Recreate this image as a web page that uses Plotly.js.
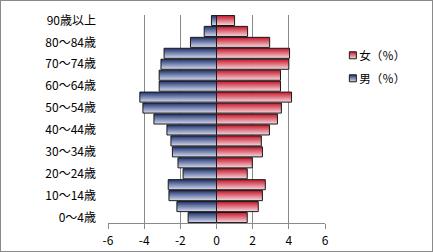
<!DOCTYPE html>
<html><head><meta charset="utf-8">
<script src="https://cdn.plot.ly/plotly-3.0.1.min.js"></script>
<style>
html,body{margin:0;padding:0;background:#fff;}
#wrap{position:relative;width:433px;height:252px;}
#chart{width:433px;height:252px;}
#frame{position:absolute;left:0;top:0;width:433px;height:252px;box-sizing:border-box;border:1px solid #8a8a8a;pointer-events:none;}
</style></head>
<body>
<div id="wrap"><div id="chart"></div><div id="frame"></div></div>
<script>
const ageGroups = ["0～4歳","5～9歳","10～14歳","15～19歳","20～24歳","25～29歳","30～34歳","35～39歳","40～44歳","45～49歳","50～54歳","55～59歳","60～64歳","65～69歳","70～74歳","75～79歳","80～84歳","85～89歳","90歳以上"];
const maleValues = [1.57,2.19,2.63,2.67,1.85,2.13,2.44,2.52,2.74,3.46,4.07,4.24,3.17,3.17,3.07,2.90,1.44,0.68,0.28];
const femaleValues = [1.70,2.31,2.54,2.70,1.70,1.98,2.54,2.48,2.93,3.37,3.59,4.15,3.54,3.54,4.00,4.04,2.94,1.72,1.00];
const xTickVals = [-6,-4,-2,0,2,4,6];
const xTickText = ["-6","-4","-2","0","2","4","6"];
const yTickLabels = ageGroups.filter((_, i) => i % 2 === 0);
const femaleName = "女（％）";
const maleName = "男（％）";

const font = "Noto Sans CJK JP, Noto Sans, sans-serif";
const data = [
  {type:"bar", orientation:"h", name:femaleName, y:ageGroups, x:femaleValues,
   legendgroup:"f",
   marker:{color:"#d9505f", line:{color:"#1a1a1a", width:1}}, hoverinfo:"none"},
  {type:"bar", orientation:"h", name:maleName, y:ageGroups, x:maleValues.map(v => -v),
   legendgroup:"m",
   marker:{color:"#5a6fa5", line:{color:"#1a1a1a", width:1}}, hoverinfo:"none"}
];
const layout = {
  width:433, height:252,
  margin:{l:108, r:108, t:15, b:29},
  paper_bgcolor:"#fff", plot_bgcolor:"#fff",
  font:{family:font, size:12, color:"#000"},
  barmode:"relative", bargap:0.08,
  showlegend:true,
  legend:{x:0.974, xanchor:"left", y:0.876, yanchor:"top", bgcolor:"rgba(0,0,0,0)",
          font:{family:font, size:11.5, color:"#000"}, traceorder:"grouped", tracegroupgap:4},
  xaxis:{range:[-6,6], tickvals:xTickVals, ticktext:xTickText, showgrid:true, gridcolor:"#8a8a8a", gridwidth:1,
         zeroline:true, zerolinecolor:"#8a8a8a", zerolinewidth:1,
         showline:true, linecolor:"#8a8a8a", linewidth:1, ticks:"outside", ticklen:5, tickcolor:"#8a8a8a",
         ticklabelstandoff:2,
         tickfont:{family:font, size:12, color:"#000"}, fixedrange:true},
  yaxis:{type:"category", categoryorder:"array", categoryarray:ageGroups,
         tickvals:yTickLabels, ticktext:yTickLabels, ticks:"", showgrid:false, zeroline:false, showline:false,
         ticklabelstandoff:11, tickfont:{family:font, size:12, color:"#000"}, fixedrange:true}
};
Plotly.newPlot("chart", data, layout, {staticPlot:true, displayModeBar:false}).then(gd => {
  const NS = "http://www.w3.org/2000/svg";
  const svg = gd.querySelector("svg.main-svg");
  let defs = svg.querySelector("defs");
  if (!defs) { defs = document.createElementNS(NS, "defs"); svg.insertBefore(defs, svg.firstChild); }
  function grad(id, top, bottom) {
    const g = document.createElementNS(NS, "linearGradient");
    g.setAttribute("id", id); g.setAttribute("x1","0"); g.setAttribute("y1","0"); g.setAttribute("x2","0"); g.setAttribute("y2","1");
    [[0, top],[1, bottom]].forEach(([o,c]) => {
      const s = document.createElementNS(NS, "stop"); s.setAttribute("offset", o); s.setAttribute("stop-color", c); g.appendChild(s);
    });
    defs.appendChild(g);
  }
  grad("gradF", "rgb(200,20,40)", "rgb(246,218,224)");
  grad("gradM", "rgb(30,50,110)", "rgb(214,220,240)");
  const ids = ["gradF","gradM"];
  gd.querySelectorAll("g.trace.bars").forEach((t, i) => {
    t.querySelectorAll("path").forEach(p => { p.style.fill = "url(#" + ids[i] + ")"; });
  });
  gd.querySelectorAll("g.legend g.traces").forEach((t, i) => {
    t.querySelectorAll("g.legendpoints path").forEach(p => {
      p.setAttribute("d", "M3.5,3.5H-3.5V-3.5H3.5Z");
      p.setAttribute("transform", "translate(33.5,0)");
      p.style.fill = "url(#" + ids[i] + ")";
      p.style.strokeWidth = "1px";
      p.style.stroke = "#1a1a1a";
    });
  });
});
</script>
</body></html>
